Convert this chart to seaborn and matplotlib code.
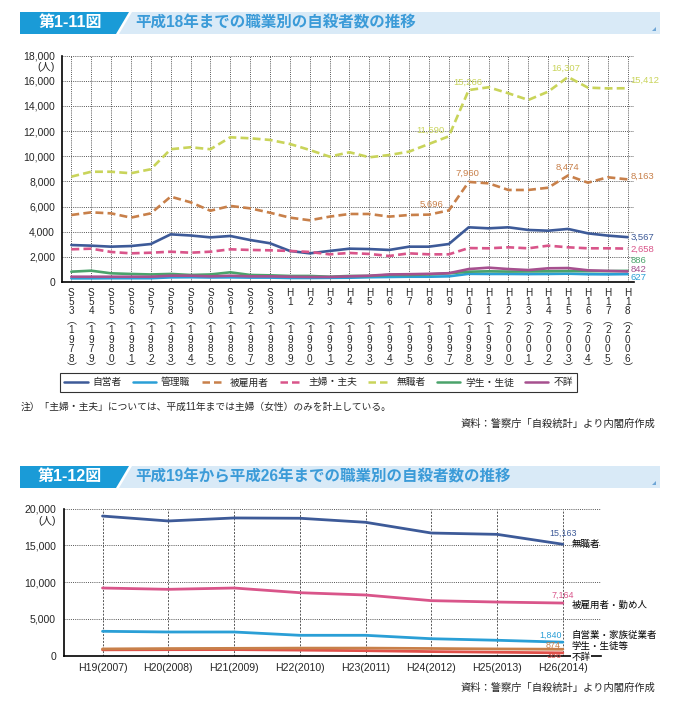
import matplotlib
matplotlib.use('Agg')
import matplotlib.pyplot as plt
import seaborn as sns
import pandas as pd
from matplotlib.patches import Polygon
from matplotlib.lines import Line2D
from matplotlib.ticker import FuncFormatter

# ---------------- data: figure 1-11 ----------------
era_top = ['S53', 'S54', 'S55', 'S56', 'S57', 'S58', 'S59', 'S60', 'S61', 'S62', 'S63',
           'H1', 'H2', 'H3', 'H4', 'H5', 'H6', 'H7', 'H8', 'H9', 'H10', 'H11', 'H12',
           'H13', 'H14', 'H15', 'H16', 'H17', 'H18']
year_top = [1978, 1979, 1980, 1981, 1982, 1983, 1984, 1985, 1986, 1987, 1988,
            1989, 1990, 1991, 1992, 1993, 1994, 1995, 1996, 1997, 1998, 1999, 2000,
            2001, 2002, 2003, 2004, 2005, 2006]

jieisha = [2940, 2890, 2810, 2860, 3020, 3790, 3700, 3550, 3660, 3340, 3080, 2470, 2280, 2470,
           2650, 2620, 2550, 2810, 2810, 3020, 4350, 4270, 4350, 4140, 4080, 4220, 3870, 3690, 3567]
kanrishoku = [290, 290, 300, 300, 300, 370, 380, 360, 370, 350, 350, 320, 320, 330,
              340, 380, 400, 420, 420, 450, 650, 640, 640, 630, 640, 660, 620, 610, 627]
hikoyousha = [5330, 5540, 5460, 5120, 5460, 6790, 6340, 5670, 6050, 5860, 5510, 5120, 4910, 5200,
              5410, 5410, 5200, 5330, 5360, 5696, 7960, 7850, 7320, 7320, 7500, 8474, 7900, 8330, 8163]
shufu = [2600, 2650, 2390, 2280, 2330, 2410, 2330, 2410, 2600, 2550, 2520, 2470, 2390, 2200,
         2310, 2230, 2070, 2280, 2200, 2200, 2700, 2680, 2760, 2680, 2890, 2760, 2680, 2680, 2658]
mushoku = [8380, 8770, 8770, 8650, 8970, 10560, 10720, 10560, 11510, 11430, 11300, 10980, 10500, 9970,
           10320, 9920, 10100, 10370, 10980, 11590, 15266, 15490, 15010, 14480, 15140, 16307, 15460, 15400, 15412]
gakusei = [820, 900, 690, 640, 600, 640, 560, 600, 770, 560, 530, 480, 480, 420,
           480, 480, 560, 560, 600, 690, 820, 850, 830, 840, 850, 870, 860, 870, 886]
fusho = [420, 420, 420, 420, 420, 500, 500, 450, 500, 450, 450, 420, 400, 400,
         450, 500, 600, 620, 650, 700, 1030, 1140, 1030, 950, 1090, 1110, 930, 880, 842]

top_names = ['自営者', '管理職', '被雇用者', '主婦・主夫', '無職者', '学生・生徒', '不詳']
top_values = [jieisha, kanrishoku, hikoyousha, shufu, mushoku, gakusei, fusho]
top_colors = ['#3d5a98', '#2a9fd6', '#c8804a', '#d9558a', '#c9d45a', '#4aa36b', '#a6508f']
top_dashed = [False, False, True, True, True, False, False]

# ---------------- data: figure 1-12 ----------------
era_bot = ['H19', 'H20', 'H21', 'H22', 'H23', 'H24', 'H25', 'H26']
year_bot = [2007, 2008, 2009, 2010, 2011, 2012, 2013, 2014]
b_mushoku = [19000, 18330, 18740, 18700, 18150, 16690, 16510, 15163]
b_hikoyou = [9210, 9030, 9210, 8570, 8260, 7490, 7300, 7164]
b_jieigyo = [3320, 3225, 3225, 2775, 2775, 2310, 2100, 1840]
b_gakusei = [920, 970, 1000, 1030, 1030, 980, 920, 874]
b_fusho = [800, 820, 830, 760, 680, 560, 470, 386]
bot_names = ['無職者', '被雇用者・勤め人', '自営業・家族従業者', '学生・生徒等', '不詳']
bot_values = [b_mushoku, b_hikoyou, b_jieigyo, b_gakusei, b_fusho]
bot_colors = ['#3d5a98', '#d9558a', '#2a9fd6', '#c8804a', '#e0504a']

note_text = '注）「主婦・主夫」については、平成11年までは主婦（女性）のみを計上している。'
source_text = '資料：警察庁「自殺統計」より内閣府作成'
title1_no, title1 = '第1-11図', '平成18年までの職業別の自殺者数の推移'
title2_no, title2 = '第1-12図', '平成19年から平成26年までの職業別の自殺者数の推移'

# ---------------- setup ----------------
sns.set_theme(style='white')
plt.rcParams['font.family'] = ['Liberation Sans', 'Noto Sans CJK JP', 'DejaVu Sans']
plt.rcParams['axes.unicode_minus'] = False

W, H = 686, 715
fig = plt.figure(figsize=(W / 100, H / 100), dpi=100)


def fx(px):
    return px / W


def fy(py):
    return 1 - py / H


def banner(y0, y1, no, title):
    fig.patches.append(Polygon([[fx(20), fy(y0)], [fx(129), fy(y0)], [fx(116), fy(y1)], [fx(20), fy(y1)]],
                               closed=True, transform=fig.transFigure, facecolor='#1a9bd7', edgecolor='none'))
    fig.patches.append(Polygon([[fx(132), fy(y0)], [fx(660), fy(y0)], [fx(660), fy(y1)], [fx(119), fy(y1)]],
                               closed=True, transform=fig.transFigure, facecolor='#d9eaf7', edgecolor='none'))
    fig.patches.append(Polygon([[fx(656), fy(y1 - 7)], [fx(656), fy(y1 - 3)], [fx(652), fy(y1 - 3)]],
                               closed=True, transform=fig.transFigure, facecolor='#6fa6d6', edgecolor='none'))
    ym = fy((y0 + y1) / 2)
    fig.text(fx(70), ym, no, color='white', fontsize=11.5, fontweight='bold', ha='center', va='center')
    fig.text(fx(135), ym, title, color='#3b9bd8', fontsize=11.2, fontweight='bold', ha='left', va='center')


banner(12, 34, title1_no, title1)
banner(466, 488, title2_no, title2)

comma = FuncFormatter(lambda v, p: f'{int(v):,}')

# ---------------- top chart ----------------
ax1 = fig.add_axes([fx(62), fy(282), fx(634) - fx(62), fy(55.7) - fy(282)])
rows = []
for name, vals in zip(top_names, top_values):
    for i, v in enumerate(vals):
        rows.append({'idx': i, 'series': name, 'value': v})
top_df = pd.DataFrame(rows)
dashes = {n: ((3, 1.6) if d else '') for n, d in zip(top_names, top_dashed)}
palette = dict(zip(top_names, top_colors))
sns.lineplot(data=top_df, x='idx', y='value', hue='series', style='series',
             hue_order=top_names, style_order=top_names, palette=palette, dashes=dashes,
             linewidth=1.9, legend=False, ax=ax1, sort=False)
ax1.set_xlim(-0.47, 28.32)
ax1.set_ylim(0, 18000)
ax1.set_yticks(range(0, 18001, 2000))
ax1.yaxis.set_major_formatter(comma)
ax1.set_xticks(range(len(era_top)))


def vlabel(era, year):
    chars = list(era)
    if len(chars) == 2:
        chars.append(' ')
    return '\n'.join(chars + ['︵'] + list(str(year)) + ['︶'])


ax1.set_xticklabels([vlabel(e, y) for e, y in zip(era_top, year_top)], fontsize=7.2, linespacing=0.93)
ax1.tick_params(axis='x', length=0, pad=4)
ax1.tick_params(axis='y', length=0, pad=5, labelsize=7.5)
ax1.set_xlabel('')
ax1.set_ylabel('')
ax1.grid(True, color='#555555', linestyle=(0, (1, 1.2)), linewidth=0.7)
for s in ['top', 'right']:
    ax1.spines[s].set_visible(False)
for s in ['left', 'bottom']:
    ax1.spines[s].set_color('black')
    ax1.spines[s].set_linewidth(1.2)
fig.text(fx(55), fy(67.3), '(人)', ha='right', va='center', fontsize=7.5)


def note(ax, idx, val, txt, color, dx, dy, ha, size=6.8):
    ax.annotate(txt, xy=(idx, val), xytext=(dx, dy), textcoords='offset pixels',
                ha=ha, va='center', color=color, fontsize=size)


ci = dict(zip(top_names, top_colors))
note(ax1, 19, mushoku[19], f'{mushoku[19]:,}', ci['無職者'], -4, 6, 'right')
note(ax1, 20, mushoku[20], f'{mushoku[20]:,}', ci['無職者'], -1, 8, 'center')
note(ax1, 25, mushoku[25], f'{mushoku[25]:,}', ci['無職者'], -2, 9, 'center')
note(ax1, 28, mushoku[28], f'{mushoku[28]:,}', ci['無職者'], 3, 8, 'left')
note(ax1, 19, hikoyousha[19], f'{hikoyousha[19]:,}', ci['被雇用者'], -5, 6, 'right')
note(ax1, 20, hikoyousha[20], f'{hikoyousha[20]:,}', ci['被雇用者'], -1, 9, 'center')
note(ax1, 25, hikoyousha[25], f'{hikoyousha[25]:,}', ci['被雇用者'], -1, 8, 'center')
note(ax1, 28, hikoyousha[28], f'{hikoyousha[28]:,}', ci['被雇用者'], 3, 3, 'left')
note(ax1, 28, jieisha[28], f'{jieisha[28]:,}', ci['自営者'], 3, 0, 'left')
note(ax1, 28, shufu[28], f'{shufu[28]:,}', ci['主婦・主夫'], 3, -1, 'left')
note(ax1, 28, gakusei[28], f'{gakusei[28]:,}', ci['学生・生徒'], 3, 10.5, 'left')
note(ax1, 28, fusho[28], f'{fusho[28]:,}', ci['不詳'], 3, 2, 'left')
note(ax1, 28, kanrishoku[28], f'{kanrishoku[28]:,}', ci['管理職'], 3, -3.5, 'left')

handles = [Line2D([0], [0], color=c, lw=1.8, linestyle=(0, (3, 1.6)) if d else '-')
           for c, d in zip(top_colors, top_dashed)]
leg = fig.legend(handles, top_names, loc='center', bbox_to_anchor=(fx(318.5), fy(382.5)), ncol=7,
                 fontsize=7, frameon=True, fancybox=False, edgecolor='black', handlelength=2.4,
                 columnspacing=1.15, handletextpad=0.5, borderpad=0.45, borderaxespad=0)
leg.get_frame().set_linewidth(0.8)

fig.text(fx(21), fy(407), note_text, ha='left', va='center', fontsize=7)
fig.text(fx(655), fy(424), source_text, ha='right', va='center', fontsize=7.4)

# ---------------- bottom chart ----------------
ax2 = fig.add_axes([fx(64.3), fy(655.7), fx(601) - fx(64.3), fy(508.7) - fy(655.7)])
rows = []
for name, vals in zip(bot_names, bot_values):
    for i, v in enumerate(vals):
        rows.append({'idx': i, 'series': name, 'value': v})
bot_df = pd.DataFrame(rows)
sns.lineplot(data=bot_df, x='idx', y='value', hue='series', hue_order=bot_names[::-1],
             palette=dict(zip(bot_names, bot_colors)), linewidth=2.0, legend=False, ax=ax2, sort=False)
ax2.set_xlim(-0.581, 7.58)
ax2.set_ylim(0, 20000)
ax2.set_yticks(range(0, 20001, 5000))
ax2.yaxis.set_major_formatter(comma)
ax2.set_xticks(range(len(era_bot)))
ax2.set_xticklabels([f'{e}({y})' for e, y in zip(era_bot, year_bot)], fontsize=7.6)
ax2.tick_params(axis='x', length=0, pad=5)
ax2.tick_params(axis='y', length=0, pad=6, labelsize=7.6)
ax2.set_xlabel('')
ax2.set_ylabel('')
ax2.grid(False)
for yv in range(5000, 20001, 5000):
    ax2.axhline(yv, color='#555555', linestyle=(0, (1, 1.2)), linewidth=0.7, zorder=0.5)
for xv in range(len(era_bot)):
    ax2.axvline(xv, color='#555555', linestyle=(0, (2, 1.5)), linewidth=0.7, zorder=0.5)
for s in ['top', 'right']:
    ax2.spines[s].set_visible(False)
for s in ['left', 'bottom']:
    ax2.spines[s].set_color('black')
    ax2.spines[s].set_linewidth(1.2)
fig.text(fx(56), fy(521), '(人)', ha='right', va='center', fontsize=7.6)

cb = dict(zip(bot_names, bot_colors))
last = len(era_bot) - 1
note(ax2, last, b_mushoku[last], f'{b_mushoku[last]:,}', cb['無職者'], 0, 11, 'center', 6.4)
note(ax2, last, b_hikoyou[last], f'{b_hikoyou[last]:,}', cb['被雇用者・勤め人'], 0, 8, 'center', 6.4)
note(ax2, last, b_jieigyo[last], f'{b_jieigyo[last]:,}', cb['自営業・家族従業者'], -1, 7, 'right', 6.4)
note(ax2, last, b_gakusei[last], f'{b_gakusei[last]:,}', cb['学生・生徒等'], -2, 3.6, 'right', 6.4)
note(ax2, last, b_fusho[last], f'{b_fusho[last]:,}', cb['不詳'], -1, -2.8, 'right', 6.4)

name_dy = [0, -2, 6.5, 3.3, -4]
for name, vals, dy in zip(bot_names, bot_values, name_dy):
    t = ax2.annotate(name, xy=(last, vals[last]), xytext=(9, dy), textcoords='offset pixels',
                     ha='left', va='center', color='black', fontsize=6.8)
    if name == '不詳':
        t.set_bbox(dict(facecolor='white', edgecolor='none', pad=0.3))

fig.text(fx(655), fy(688), source_text, ha='right', va='center', fontsize=7.4)

fig.savefig('out.png', dpi=100)
